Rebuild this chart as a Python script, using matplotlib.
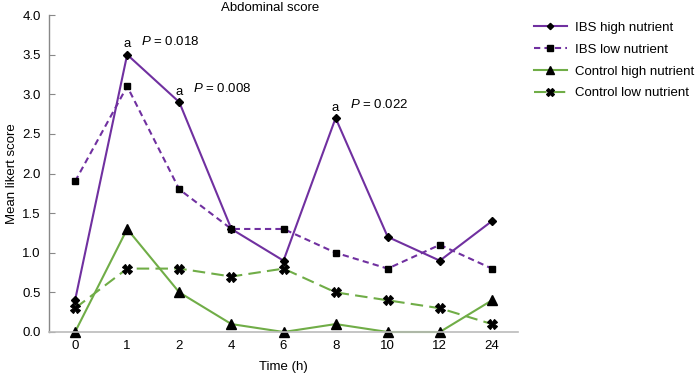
import matplotlib
matplotlib.use("Agg")
import matplotlib.pyplot as plt
import numpy as np

time_labels = ["0", "1", "2", "4", "6", "8", "10", "12", "24"]
ibs_high = [0.4, 3.5, 2.9, 1.3, 0.9, 2.7, 1.2, 0.9, 1.4]
ibs_low = [1.9, 3.1, 1.8, 1.3, 1.3, 1.0, 0.8, 1.1, 0.8]
ctrl_high = [0.0, 1.3, 0.5, 0.1, 0.0, 0.1, 0.0, 0.0, 0.4]
ctrl_low = [0.3, 0.8, 0.8, 0.7, 0.8, 0.5, 0.4, 0.3, 0.1]
sig_idx = [1, 2, 5]
sig_p = ["0.018", "0.008", "0.022"]

purple = "#7030A0"
green = "#70AD47"

plt.rcParams['font.family'] = ['Liberation Sans', 'DejaVu Sans']
plt.rcParams['mathtext.fontset'] = 'custom'
plt.rcParams['mathtext.it'] = 'Liberation Sans:italic'
fs = 9.5
fig = plt.figure(figsize=(6.97, 3.80), dpi=100)
ax = fig.add_axes([49/697, 1-332/380, (518-49)/697, (332-15)/380])
x = np.arange(len(time_labels))

ax.plot(x, ibs_high, color=purple, lw=1.5, marker='D', ms=4, mfc='black', mec='black', label='IBS high nutrient')
ax.plot(x, ibs_low, color=purple, lw=1.5, ls=(0, (3, 2)), marker='s', ms=5, mfc='black', mec='black', label='IBS low nutrient')
ax.plot(x, ctrl_high, color=green, lw=1.5, marker='^', ms=7, mfc='black', mec='black', label='Control high nutrient', clip_on=False)
ax.plot(x, ctrl_low, color=green, lw=1.5, ls=(0, (6, 3)), marker='X', ms=6.5, mfc='black', mec='black', mew=0.8, label='Control low nutrient')

for i, p in zip(sig_idx, sig_p):
    ax.annotate('a', (x[i], ibs_high[i]), xytext=(0, 3), textcoords='offset points', ha='center', va='bottom', fontsize=fs)
    ax.annotate(r'$\mathit{P}$ = ' + p, (x[i], ibs_high[i]), xytext=(10, 5), textcoords='offset points', ha='left', va='bottom', fontsize=fs)

ax.set_xlim(-0.5, 8.5)
ax.set_ylim(0, 4.0)
ax.set_yticks(np.arange(0, 4.01, 0.5))
ax.set_yticklabels([f"{v:.1f}" for v in np.arange(0, 4.01, 0.5)])
ax.set_xticks(x)
ax.set_xticklabels(time_labels)
ax.tick_params(axis='x', length=0, labelsize=fs, pad=6)
ax.tick_params(axis='y', length=4, color='#888888', labelsize=fs, pad=6, direction='in')
for s in ['top', 'right']:
    ax.spines[s].set_visible(False)
ax.spines['left'].set_color('#888888')
ax.spines['bottom'].set_color('#bbbbbb')
ax.spines['left'].set_linewidth(1)
ax.spines['bottom'].set_linewidth(1.2)

ax.set_xlabel('Time (h)', fontsize=fs, labelpad=6)
ax.set_ylabel('Mean likert score', fontsize=fs, labelpad=3)
fig.text(270/697, 1-8/380, 'Abdominal score', ha='center', va='center', fontsize=fs)

leg = fig.legend(loc='upper left', bbox_to_anchor=(522/697, 1-10/380), frameon=False, fontsize=fs,
                 handlelength=2.5, labelspacing=0.72, handletextpad=0.6, markerscale=0.8)

fig.savefig('out.png', dpi=100)
